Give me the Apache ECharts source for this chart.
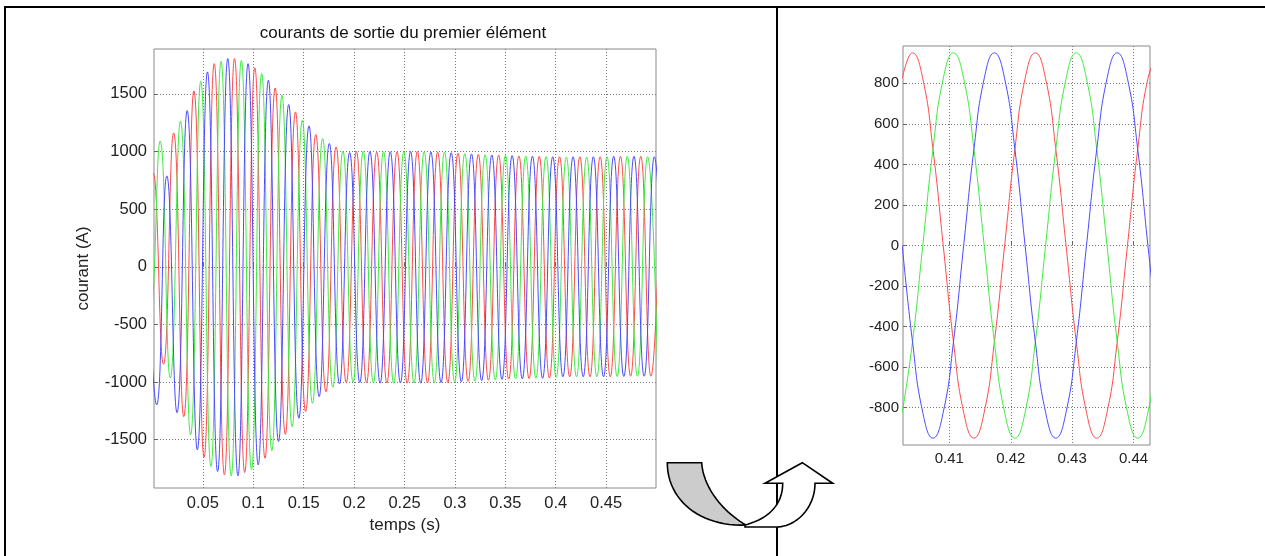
<!DOCTYPE html>
<html><head><meta charset="utf-8">
<script src="https://cdn.jsdelivr.net/npm/echarts@6/dist/echarts.min.js"></script>
<style>html,body{margin:0;padding:0;background:#fff}#c{width:1265px;height:556px}</style>
</head><body><div id="c"></div>
<script>
// ---------- text ----------
const chartTitle = 'courants de sortie du premier élément';
const xName = 'temps (s)';
const yName = 'courant (A)';

// ---------- tick labels ----------
const mainXTicks = [0.05, 0.1, 0.15, 0.2, 0.25, 0.3, 0.35, 0.4, 0.45];
const mainYTicks = [-1500, -1000, -500, 0, 500, 1000, 1500];
const zoomXTicks = [0.41, 0.42, 0.43, 0.44];
const zoomYTicks = [-800, -600, -400, -200, 0, 200, 400, 600, 800];

// ---------- main plot: successive extrema (A) of each phase, one every half period ----------
const halfPeriod = 0.010075;      // s, time between successive extrema
const redStart = -0.009275;       // s, time of first listed extremum
const greenStart = -0.012575;
const blueStart = -0.00592;
const redExtrema = [-800, 810, -846, 1162, -1301, 1526, -1653, 1763, -1806, 1807, -1786, 1726, -1662, 1552, -1454, 1344, -1257, 1148, -1084, 1040, -1005, 1000, -1005, 995, -1008, 998, -1010, 1000, -1008, 995, -1005, 985, -995, 975, -985, 968, -975, 962, -970, 958, -965, 955, -955, 955, -955, 955, -955, 958, -950, 958, -950, 955];
const greenExtrema = [500, -400, 1090, -966, 1263, -1459, 1610, -1734, 1784, -1815, 1792, -1760, 1677, -1596, 1489, -1388, 1272, -1185, 1113, -1046, 1003, -1000, 1000, -1008, 998, -1010, 1000, -1008, 998, -1005, 995, -1000, 982, -992, 972, -982, 965, -972, 960, -968, 956, -960, 952, -955, 952, -955, 955, -952, 958, -950, 955, -950];
const blueExtrema = [300, -1199, 789, -1266, 1356, -1589, 1691, -1778, 1807, -1815, 1763, -1720, 1619, -1517, 1408, -1315, 1223, -1127, 1070, -1017, 992, -1005, 1000, -1010, 998, -1008, 1000, -1010, 996, -1005, 990, -998, 980, -988, 970, -978, 965, -972, 960, -968, 955, -955, 955, -955, 955, -955, 958, -952, 958, -950, 955, -950];

// ---------- zoomed plot: samples (A) ----------
const zoomTime = [0.40233, 0.404, 0.40567, 0.40733, 0.409, 0.41067, 0.41233, 0.414, 0.41567, 0.41733, 0.419, 0.42067, 0.42233, 0.424, 0.42567, 0.42733, 0.429, 0.43067, 0.43233, 0.434, 0.43567, 0.43733, 0.439, 0.44067, 0.44233, 0.444];
const zoomRed = [823, 950, 823, 475, 0, -475, -823, -950, -823, -475, 0, 475, 823, 950, 823, 475, 0, -475, -823, -950, -823, -475, 0, 475, 823, 950];
const zoomGreen = [-823, -475, 0, 475, 823, 950, 823, 475, 0, -475, -823, -950, -823, -475, 0, 475, 823, 950, 823, 475, 0, -475, -823, -950, -823, -475];
const zoomBlue = [0, -475, -823, -950, -823, -475, 0, 475, 823, 950, 823, 475, 0, -475, -823, -950, -823, -475, 0, 475, 823, 950, 823, 475, 0, -475];

// ---------- build ----------
const FONT = 'Liberation Sans, Arial, Helvetica, sans-serif';
const COLORS = { red: '#ff4a4a', green: '#40ea40', blue: '#4a4aff' };
const fmtNum = v => String(+Number(v).toFixed(3));

function extremaSeries(start, vals) {
  return vals.map((v, i) => [start + i * halfPeriod, v]);
}
function zoomSeries(vals) {
  return vals.map((v, i) => [zoomTime[i], v]);
}
function lineSeries(name, color, data, xi) {
  return {
    name, type: 'line', xAxisIndex: xi, yAxisIndex: xi, data,
    showSymbol: false, symbol: 'none', smooth: true, clip: true,
    lineStyle: { color, width: 1 }, silent: true
  };
}
function axisCfg(gi, min, max, ticks, fs, margin) {
  return {
    type: 'value', gridIndex: gi, min, max,
    axisLine: { show: false },
    axisTick: { show: true, inside: true, length: 4, customValues: ticks, lineStyle: { color: '#666' } },
    axisLabel: { customValues: ticks, formatter: fmtNum, fontSize: fs, color: '#222', fontFamily: FONT, margin },
    splitLine: { show: true, lineStyle: { color: '#7a7a7a', width: 1, type: [1, 2] } }
  };
}

const mainX = axisCfg(0, 0.0015, 0.4995, mainXTicks, 16.5, 7);
Object.assign(mainX, { name: xName, nameLocation: 'middle', nameGap: 29,
  nameTextStyle: { fontSize: 17, color: '#222', fontFamily: FONT } });
const mainY = axisCfg(0, -1920, 1890, mainYTicks, 16.5, 7);
Object.assign(mainY, { name: yName, nameLocation: 'middle', nameGap: 62, nameRotate: 90,
  nameTextStyle: { fontSize: 17, color: '#222', fontFamily: FONT } });
const zoomX = axisCfg(1, 0.40245, 0.44267, zoomXTicks, 15, 6);
const zoomY = axisCfg(1, -984, 984, zoomYTicks, 15, 4);

const gridStyle = { show: true, borderColor: '#8a8a8a', borderWidth: 1, backgroundColor: '#fff', containLabel: false };

// decoration: sample a simple M/L/C path outline into polygon points
function outline(cmds) {
  const pts = [];
  let cur = null;
  cmds.forEach(c => {
    if (c[0] === 'M' || c[0] === 'L') { cur = [c[1], c[2]]; pts.push(cur); }
    else if (c[0] === 'C') {
      const p0 = cur, p1 = [c[1], c[2]], p2 = [c[3], c[4]], p3 = [c[5], c[6]];
      for (let k = 1; k <= 24; k++) {
        const t = k / 24, u = 1 - t;
        pts.push([
          u*u*u*p0[0] + 3*u*u*t*p1[0] + 3*u*t*t*p2[0] + t*t*t*p3[0],
          u*u*u*p0[1] + 3*u*u*t*p1[1] + 3*u*t*t*p2[1] + t*t*t*p3[1]
        ]);
      }
      cur = p3;
    }
  });
  return pts;
}
const grayShape = outline([
  ['M', 667.3, 462.7], ['L', 701.7, 462.7], ['C', 703, 485, 720, 510, 746, 525],
  ['C', 700, 527, 667.3, 500, 667.3, 462.7]
]);
const whiteArrow = outline([
  ['M', 745, 527], ['L', 776, 527], ['C', 797, 527, 815, 507, 815, 483.3],
  ['L', 832.7, 483.3], ['L', 802.3, 462.7], ['L', 765, 483.3], ['L', 782.7, 483.3],
  ['C', 782.7, 505, 768, 519, 745, 525]
]);

const option = {
  animation: false,
  backgroundColor: '#fff',
  textStyle: { fontFamily: FONT },
  title: { text: chartTitle, left: 398, top: 20, textAlign: 'center',
    textStyle: { fontSize: 17, fontWeight: 'normal', color: '#111', fontFamily: FONT } },
  grid: [
    Object.assign({ left: 154, top: 49, width: 502, height: 439 }, gridStyle),
    Object.assign({ left: 903, top: 46, width: 247, height: 399 }, gridStyle)
  ],
  xAxis: [mainX, zoomX],
  yAxis: [mainY, zoomY],
  series: [
    lineSeries('ia', COLORS.red, extremaSeries(redStart, redExtrema), 0),
    lineSeries('ib', COLORS.green, extremaSeries(greenStart, greenExtrema), 0),
    lineSeries('ic', COLORS.blue, extremaSeries(blueStart, blueExtrema), 0),
    lineSeries('ia ', COLORS.red, zoomSeries(zoomRed), 1),
    lineSeries('ib ', COLORS.green, zoomSeries(zoomGreen), 1),
    lineSeries('ic ', COLORS.blue, zoomSeries(zoomBlue), 1)
  ],
  graphic: [
    { type: 'rect', z: 100, shape: { x: 4, y: 6, width: 1261, height: 2 }, style: { fill: '#000' } },
    { type: 'rect', z: 100, shape: { x: 4, y: 6, width: 2, height: 550 }, style: { fill: '#000' } },
    { type: 'rect', z: 100, shape: { x: 776, y: 6, width: 2, height: 550 }, style: { fill: '#000' } },
    { type: 'polygon', z: 101, shape: { points: grayShape },
      style: { fill: '#cccccc', stroke: '#000', lineWidth: 1.6, lineJoin: 'miter' } },
    { type: 'polygon', z: 102, shape: { points: whiteArrow },
      style: { fill: '#ffffff', stroke: '#000', lineWidth: 1.6, lineJoin: 'miter' } }
  ]
};

const chart = echarts.init(document.getElementById('c'), null, { renderer: 'canvas' });
chart.setOption(option);
</script>
</body></html>
